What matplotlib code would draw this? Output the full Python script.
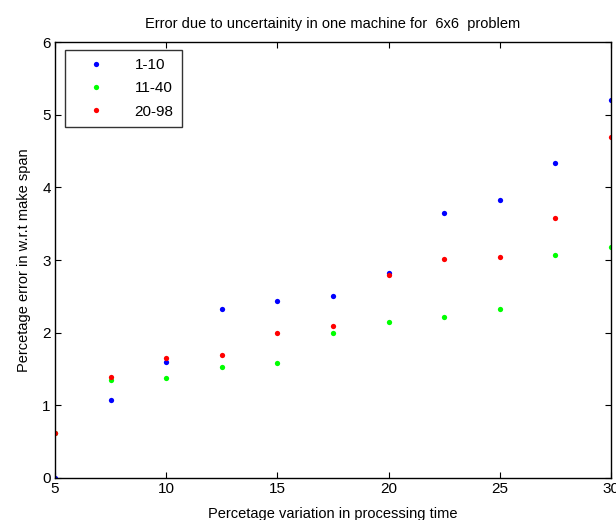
#!/usr/bin/env python3
import matplotlib as mpl
import matplotlib.pyplot as plt

mpl.rcParams.update({
    "font.family": ["Liberation Sans", "DejaVu Sans"],
    "font.size": 10,
    "axes.linewidth": 1.0,
    "xtick.direction": "in",
    "ytick.direction": "in",
    "xtick.top": True,
    "ytick.right": True,
})

# ===== DATA =====
variation = [5, 7.5, 10, 12.5, 15, 17.5, 20, 22.5, 25, 27.5, 30]
err_1_10 = [0.0, 1.07, 1.60, 2.32, 2.44, 2.51, 2.82, 3.65, 3.82, 4.33, 5.20]
err_11_40 = [0.62, 1.35, 1.37, 1.53, 1.58, 2.00, 2.14, 2.21, 2.32, 3.07, 3.18]
err_20_98 = [0.62, 1.39, 1.65, 1.69, 2.00, 2.09, 2.79, 3.02, 3.04, 3.58, 4.69]

labels = ["1-10", "11-40", "20-98"]
colors = ["#0000ff", "#00ff00", "#ff0000"]

# ===== PLOT =====
fig = plt.figure(figsize=(6.16, 5.2), dpi=100)
ax = fig.add_axes([0.0893, 0.0808, 0.9027, 0.8384])

for ys, lab, c in zip([err_1_10, err_11_40, err_20_98], labels, colors):
    ax.plot(variation, ys, 'o', ms=3.8, mew=0, color=c, label=lab)

ax.set_xlim(5, 30)
ax.set_ylim(0, 6)
ax.set_xticks([5, 10, 15, 20, 25, 30])
ax.set_yticks([0, 1, 2, 3, 4, 5, 6])
ax.tick_params(length=4, width=0.8, labelsize=11, pad=3)

ax.set_title("Error due to uncertainity in one machine for  6x6  problem",
             fontsize=10.5, pad=10)
ax.set_xlabel("Percetage variation in processing time", fontsize=10.5, labelpad=8)
ax.set_ylabel("Percetage error in w.r.t make span", fontsize=10.5, labelpad=8)

leg = ax.legend(loc="upper left", bbox_to_anchor=(0.018, 0.982),
                frameon=True, fancybox=False, edgecolor="black",
                fontsize=11, handlelength=3.0, handletextpad=1.0,
                borderpad=0.55, labelspacing=0.6, borderaxespad=0)
leg.get_frame().set_linewidth(1.0)

fig.savefig("out.png", dpi=100)
